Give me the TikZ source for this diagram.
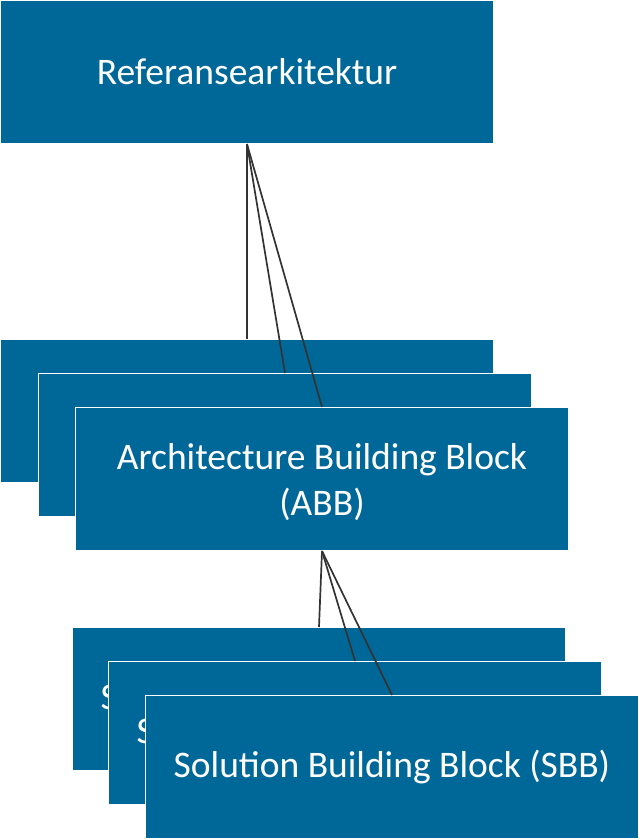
\documentclass[tikz,border=0pt]{standalone}
\usepackage{fontspec}
\setmainfont{Carlito}
\definecolor{boxblue}{RGB}{0,104,153}
\definecolor{linegray}{RGB}{51,51,51}
\newcommand{\abbtext}{\raisebox{0pt}[\dimexpr\height+8pt\relax][\depth]{\begin{tabular}{@{}c@{}}Architecture Building Block\\[1pt](ABB)\end{tabular}}}
\begin{document}
\begin{tikzpicture}[x=1pt,y=-1pt,
  blk/.style={draw=white,line width=1pt,fill=boxblue,text=white,minimum width=493pt,minimum height=143pt,anchor=north west,inner sep=0pt,align=center,font=\fontsize{37.5}{45}\selectfont},
  conn/.style={draw=linegray,line width=1.7pt}]
\useasboundingbox (0,0) rectangle (639,839);
\node[blk] (top) at (0,0) {Referansearkitektur};
\node[blk] (a1) at (0,339) {\abbtext};
\node[blk] (a2) at (38,373) {\abbtext};
\node[blk] (a3) at (75,407) {\abbtext};
\node[blk] (s1) at (72,627) {Solution Building Block (SBB)};
\node[blk] (s2) at (108,661) {Solution Building Block (SBB)};
\node[blk] (s3) at (145,695) {Solution Building Block (SBB)};
\draw[conn] (top.south) -- (a1.north);
\draw[conn] (top.south) -- (a2.north);
\draw[conn] (top.south) -- (a3.north);
\draw[conn] (a3.south) -- (s1.north);
\draw[conn] (a3.south) -- (s2.north);
\draw[conn] (a3.south) -- (s3.north);
\end{tikzpicture}
\end{document}
